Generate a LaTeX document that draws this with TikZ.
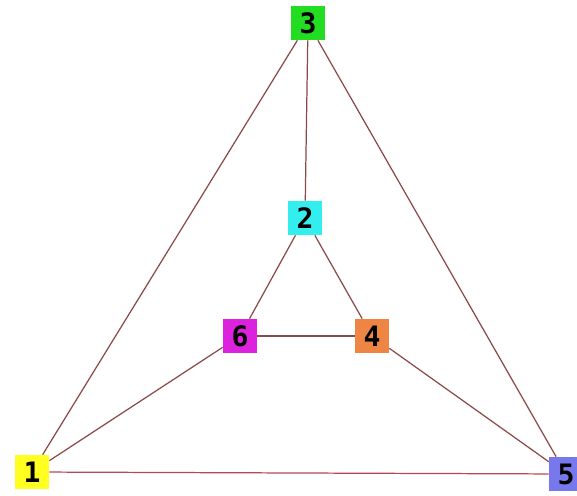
\documentclass[tikz,border=0pt]{standalone}
\usepackage{fontspec}
\setsansfont{DejaVu Sans Mono}
\usetikzlibrary{positioning}
\definecolor{edgebrown}{HTML}{8A4A48}
\definecolor{edgered}{HTML}{B8474F}
\definecolor{vgreen}{HTML}{22DD22}
\definecolor{vcyan}{HTML}{33EEEE}
\definecolor{vmagenta}{HTML}{DD22DD}
\definecolor{vorange}{HTML}{EE8544}
\definecolor{vyellow}{HTML}{FFFF22}
\definecolor{vblue}{HTML}{7777EE}
\begin{document}
\begin{tikzpicture}[x=0.02cm,y=-0.02cm,
  vertex/.style={minimum width=0.68cm,minimum height=0.68cm,inner sep=0pt,font=\sffamily\bfseries\fontsize{16}{16}\selectfont},
  edge/.style={draw=edgebrown,line width=0.7pt}
]
\useasboundingbox (0,0) rectangle (577,496);
\node[vertex,fill=vgreen] (n3) at (308,23) {3};
\node[vertex,fill=vcyan] (n2) at (305,218) {2};
\node[vertex,fill=vmagenta] (n6) at (240,336) {6};
\node[vertex,fill=vorange] (n4) at (372,336) {4};
\node[vertex,fill=vyellow] (n1) at (32,472) {1};
\node[vertex,fill=vblue] (n5) at (566,474) {5};
\draw[edge] (n3) -- (n1);
\draw[edge] (n3) -- (n2);
\draw[edge] (n3) -- (n5);
\draw[edge] (n2) -- (n6);
\draw[edge] (n2) -- (n4);
\draw[edge] (n6) -- (n4);
\draw[edge] (n6) -- (n1);
\draw[edge] (n4) -- (n5);
\draw[edge,draw=edgered] (n1) -- (n5);
\end{tikzpicture}
\end{document}
